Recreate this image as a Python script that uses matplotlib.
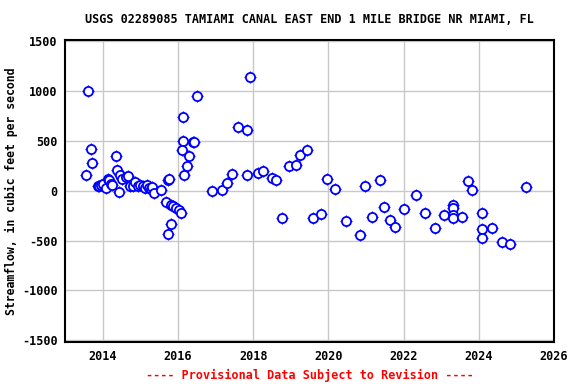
import numpy as np
import matplotlib
matplotlib.use("Agg")
import matplotlib.pyplot as plt

# Field measurements (decimal year, streamflow in ft3/s)
years = [
    2013.60, 2013.68, 2013.71, 2013.55, 2013.87, 2013.91, 2013.96, 2014.02, 2014.09,
    2014.13, 2014.16, 2014.23, 2014.26, 2014.36, 2014.37, 2014.43, 2014.47, 2014.52,
    2014.62, 2014.67, 2014.73, 2014.80, 2014.87, 2014.93, 2015.00, 2015.07, 2015.13,
    2015.17, 2015.23, 2015.29, 2015.32, 2015.36, 2015.56, 2015.73, 2015.75, 2015.67,
    2015.82, 2015.87, 2015.94, 2016.03, 2016.09, 2015.82, 2015.73, 2016.16, 2016.13,
    2016.50, 2016.13, 2016.40, 2016.42, 2016.11, 2016.29, 2016.23, 2016.90, 2017.17,
    2017.31, 2017.44, 2017.60, 2017.84, 2017.84, 2017.92, 2018.13, 2018.27, 2018.51,
    2018.62, 2018.77, 2018.96, 2019.13, 2019.25, 2019.44, 2019.60, 2019.81, 2019.97,
    2020.17, 2020.48, 2020.83, 2020.96, 2021.15, 2021.36, 2021.47, 2021.63, 2021.78,
    2022.00, 2022.33, 2022.56, 2022.83, 2023.07, 2023.31, 2023.31, 2023.31, 2023.31,
    2023.55, 2023.71, 2023.81, 2024.08, 2024.08, 2024.08, 2024.35, 2024.61, 2024.83,
    2025.25,
]
flow = [
    1000, 424, 284, 155, 45, 45, 55, 70, 30,
    122, 106, 65, 62, 354, 206, -8, 156, 122,
    139, 146, 45, 45, 89, 45, 55, 45, 32,
    55, 32, 22, 38, -18, 12, 113, 119, -116,
    -146, -153, -169, -189, -219, -337, -431, 156, 746,
    948, 498, 491, 485, 407, 347, 246, -5, 5,
    82, 173, 638, 609, 156, 1140, 183, 196, 133,
    106, -270, 246, 264, 364, 414, -270, -229, 123,
    22, -300, -441, 52, -260, 106, -159, -290, -360,
    -179, -38, -219, -370, -239, -146, -169, -239, -274,
    -260, 103, 12, -226, -387, -471, -370, -518, -531,
    35,
]

title = "USGS 02289085 TAMIAMI CANAL EAST END 1 MILE BRIDGE NR MIAMI, FL"
ylabel = "Streamflow, in cubic feet per second"
xticks = [2014, 2016, 2018, 2020, 2022, 2024, 2026]
yticks = [-1500, -1000, -500, 0, 500, 1000, 1500]

font = "DejaVu Sans Mono"
fig = plt.figure(figsize=(5.76, 3.84), dpi=100)
ax = fig.add_axes([0.113, 0.109, 0.849, 0.787])

# open circles, plus tiny ticks sticking out (USGS style)
ax.plot(years, flow, linestyle="none", marker="+", markersize=8.6,
        markeredgecolor="#0000ff", markeredgewidth=0.9, zorder=2)
ax.plot(years, flow, linestyle="none", marker="o", markersize=6.6,
        markerfacecolor="white", markeredgecolor="#0000ff", markeredgewidth=1.3, zorder=3)

ax.set_xlim(2013, 2026)
ax.set_ylim(-1520, 1515)
ax.set_xticks(xticks)
ax.set_yticks(yticks)
ax.set_xticklabels([str(t) for t in xticks], fontfamily=font, fontweight="bold", fontsize=8.5)
ax.set_yticklabels([str(t) for t in yticks], fontfamily=font, fontweight="bold", fontsize=8.5)
ax.tick_params(length=0, pad=5.5)
ax.tick_params(axis="x", pad=6)
ax.grid(True, color="#c8c8c8", linewidth=1)
ax.set_axisbelow(True)
for s in ax.spines.values():
    s.set_linewidth(1.5)
    s.set_color("black")

ax.set_ylabel(ylabel, fontfamily=font, fontweight="bold", fontsize=8.3, labelpad=3)
fig.text(0.538, 0.948, title, ha="center", va="center",
         fontfamily=font, fontweight="bold", fontsize=8.5)
fig.text(0.538, 0.022, "---- Provisional Data Subject to Revision ----", ha="center",
         va="center", color="red", fontfamily=font, fontweight="bold", fontsize=8.5)

plt.savefig("out.png", dpi=100)
